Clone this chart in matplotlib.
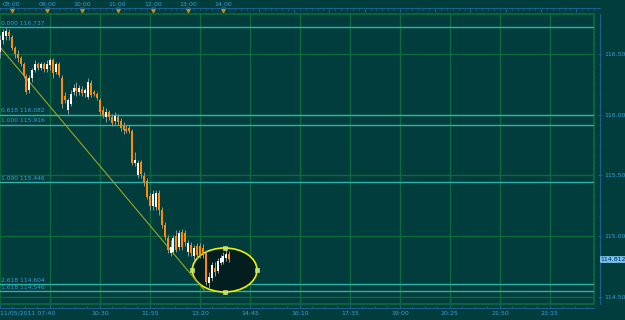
import matplotlib
matplotlib.use("Agg")
import matplotlib.pyplot as plt
import matplotlib.ticker as mticker
from matplotlib.patches import Ellipse, Rectangle
from matplotlib.transforms import blended_transform_factory

# 5 minute candles, x in minutes after 11/05/2011 07:40
opens = [116.516, 116.615, 116.648, 116.681, 116.639, 116.549, 116.500, 116.467, 116.417, 116.319,
         116.203, 116.302, 116.368, 116.417, 116.384, 116.417, 116.376, 116.409, 116.450, 116.351,
         116.417, 116.302, 116.154, 116.039, 116.088, 116.187, 116.220, 116.187, 116.212, 116.179,
         116.146, 116.261, 116.187, 116.170, 116.121, 116.039, 115.981, 116.022, 115.981, 115.948,
         115.981, 115.948, 115.907, 115.882, 115.891, 115.866, 115.603, 115.504, 115.611, 115.496,
         115.454, 115.331, 115.249, 115.240, 115.356, 115.216, 115.092, 114.985, 114.862, 114.870,
         115.002, 114.911, 115.035, 115.026, 114.870, 114.928, 114.837, 114.919, 114.919, 114.903,
         114.862, 114.615, 114.656, 114.738, 114.714, 114.780, 114.788, 114.821, 114.854]
highs = [116.656, 116.705, 116.714, 116.705, 116.656, 116.565, 116.532, 116.483, 116.434, 116.335,
         116.327, 116.384, 116.450, 116.434, 116.434, 116.434, 116.450, 116.467, 116.467, 116.434,
         116.434, 116.327, 116.187, 116.137, 116.203, 116.253, 116.269, 116.244, 116.236, 116.220,
         116.302, 116.286, 116.203, 116.187, 116.137, 116.072, 116.055, 116.039, 116.006, 116.022,
         116.006, 115.973, 115.940, 115.915, 115.915, 115.882, 115.693, 115.627, 115.627, 115.528,
         115.479, 115.356, 115.380, 115.380, 115.380, 115.240, 115.117, 115.010, 114.969, 115.010,
         115.051, 115.051, 115.059, 115.051, 114.969, 114.952, 114.928, 114.944, 114.944, 114.936,
         114.886, 114.705, 114.788, 114.788, 114.821, 114.845, 114.870, 114.886, 114.878]
lows = [116.467, 116.582, 116.615, 116.615, 116.532, 116.467, 116.434, 116.401, 116.302, 116.170,
        116.179, 116.269, 116.351, 116.368, 116.368, 116.351, 116.351, 116.368, 116.302, 116.335,
        116.310, 116.055, 116.096, 116.006, 116.072, 116.162, 116.154, 116.162, 116.154, 116.146,
        116.129, 116.146, 116.154, 116.121, 116.006, 115.973, 115.940, 115.956, 115.907, 115.923,
        115.915, 115.866, 115.841, 115.849, 115.849, 115.586, 115.578, 115.479, 115.479, 115.413,
        115.306, 115.216, 115.216, 115.216, 115.175, 115.068, 114.969, 114.862, 114.837, 114.854,
        114.870, 114.886, 114.886, 114.919, 114.837, 114.837, 114.804, 114.821, 114.821, 114.821,
        114.598, 114.574, 114.631, 114.673, 114.697, 114.763, 114.771, 114.796, 114.788]
closes = [116.615, 116.681, 116.689, 116.648, 116.549, 116.500, 116.467, 116.417, 116.319, 116.187,
          116.302, 116.368, 116.417, 116.384, 116.417, 116.376, 116.417, 116.450, 116.343, 116.417,
          116.327, 116.088, 116.121, 116.121, 116.170, 116.220, 116.195, 116.220, 116.179, 116.203,
          116.269, 116.162, 116.170, 116.137, 116.022, 115.998, 116.022, 115.981, 115.932, 115.989,
          115.940, 115.891, 115.874, 115.866, 115.866, 115.603, 115.627, 115.603, 115.512, 115.446,
          115.323, 115.249, 115.347, 115.356, 115.216, 115.092, 114.993, 114.886, 114.911, 114.985,
          114.886, 115.026, 114.911, 114.952, 114.944, 114.862, 114.903, 114.845, 114.837, 114.854,
          114.623, 114.664, 114.763, 114.705, 114.796, 114.821, 114.837, 114.854, 114.812]
times = [5 * i for i in range(len(closes))]

# fibonacci levels (position, label)
fib_levels = [116.722, 116.0, 115.916, 115.446, 114.604, 114.546]
fib_labels = ["0.000 116.737", "0.618 116.082", "1.000 115.916",
              "1.000 115.446", "2.618 114.604", "1.618 114.546"]

trend_x = [0, 347]
trend_y = [116.557, 114.558]

# ellipse: center (min, price), width (min), height (price)
ell_center = (382, 114.722)
ell_w = 110
ell_h = 0.362

last_price = "114.812"

bottom_ticks = [0, 85, 170, 255, 340, 425, 510, 595, 680, 765, 850, 935]
bottom_labels = ["11/05/2011 07:40", "", "10:30", "11:55", "13:20", "14:45",
                 "16:10", "17:35", "19:00", "20:25", "21:50", "23:15"]
top_hours = ["08:00", "09:00", "10:00", "11:00", "12:00", "13:00", "14:00"]
price_ticks = [114.5, 115.0, 115.5, 116.0, 116.5]

bg = "#023d3d"
grid_c = "#0c6a3c"
fib_c = "#2bb3ab"
axis_c = "#1d5f8c"
txt_c = "#3a9fd6"
up_c = "white"
dn_c = "#ff8c00"

fig = plt.figure(figsize=(6.25, 3.2), dpi=100, facecolor=bg)
ax = fig.add_axes([0, 16 / 320, 594 / 625, 290 / 320])
ax.set_facecolor(bg)
ax.set_xlim(0, 1010)
ax.set_ylim(114.442, 116.829)

for x in bottom_ticks[1:]:
    ax.axvline(x, color=grid_c, lw=1, zorder=1)
for y in price_ticks:
    ax.axhline(y, color=grid_c, lw=1, zorder=1)
ax.add_patch(Rectangle((0, 0), 1, 1, transform=ax.transAxes, fill=False,
                       edgecolor=grid_c, lw=1.2, zorder=1, clip_on=False))

for lvl, lab in zip(fib_levels, fib_labels):
    ax.axhline(lvl, xmax=0.998, color=fib_c, lw=1, zorder=2)
    ax.text(1, lvl + 0.012, lab, color=txt_c, fontsize=4.3, va="bottom", ha="left", zorder=6)

ax.plot(trend_x, trend_y, color="#98a61e", lw=0.8, zorder=3)

ax.add_patch(Ellipse(ell_center, ell_w, ell_h, facecolor="#021e1f",
                     edgecolor="#f0f000", lw=1.2, zorder=2))
hx = [ell_center[0], ell_center[0], ell_center[0] - ell_w / 2, ell_center[0] + ell_w / 2]
hy = [ell_center[1] + ell_h / 2, ell_center[1] - ell_h / 2, ell_center[1], ell_center[1]]
ax.scatter(hx, hy, marker="s", s=5, color="#b9e27a", edgecolors="#e8f060",
           linewidths=0.4, zorder=7)

colors = [up_c if c >= o else dn_c for o, c in zip(opens, closes)]
ax.vlines(times, lows, highs, color="#8c9c9c", lw=0.7, zorder=4)
ax.bar(times, [c - o for o, c in zip(opens, closes)], bottom=opens, width=3.4,
       color=colors, linewidth=0, zorder=5)

# right price axis
for s in ["left", "top"]:
    ax.spines[s].set_visible(False)
ax.spines["right"].set_position(("outward", 4.3))
ax.spines["right"].set_color(axis_c)
ax.spines["bottom"].set_position(("outward", 2.9))
ax.spines["bottom"].set_color(axis_c)
ax.yaxis.tick_right()
ax.set_yticks(price_ticks)
ax.set_yticklabels(["%.2f" % p for p in price_ticks])
ax.yaxis.set_minor_locator(mticker.MultipleLocator(0.5 / 6))
ax.tick_params(axis="y", which="both", direction="inout", colors=axis_c,
               labelcolor=txt_c, labelsize=4.5, pad=1.5, length=3, width=0.7)
ax.tick_params(axis="y", which="minor", length=2)

ax.set_xticks(bottom_ticks)
ax.set_xticklabels(bottom_labels)
ax.xaxis.set_minor_locator(mticker.MultipleLocator(85 / 4))
ax.tick_params(axis="x", which="both", direction="in", colors=axis_c,
               labelcolor=txt_c, labelsize=4.5, pad=2, length=3, width=0.7)
ax.tick_params(axis="x", which="minor", length=1.5)
ax.get_xticklabels()[0].set_ha("left")

tr = blended_transform_factory(ax.transAxes, ax.transData)
ax.text(1.0115, float(last_price), last_price, transform=tr, fontsize=4.5,
        color="#0b2a60", va="center", ha="left",
        bbox=dict(boxstyle="square,pad=0.15", facecolor="#6cc3f5", edgecolor="#a0dcff", lw=0.4))

# top time ruler
axt = fig.add_axes(ax.get_position())
axt.patch.set_visible(False)
axt.set_xlim(ax.get_xlim())
axt.set_yticks([])
for s in ["left", "right", "bottom"]:
    axt.spines[s].set_visible(False)
axt.spines["top"].set_position(("outward", 4.3))
axt.spines["top"].set_color(axis_c)
axt.spines["top"].set_bounds(0, 1020)
hour_ticks = list(range(20, 1010, 60))
axt.xaxis.tick_top()
axt.set_xticks(hour_ticks)
axt.set_xticklabels(top_hours + [""] * (len(hour_ticks) - len(top_hours)))
axt.xaxis.set_minor_locator(mticker.MultipleLocator(10))
axt.tick_params(axis="x", which="both", direction="in", colors=axis_c,
                labelcolor=txt_c, labelsize=4.5, pad=0.8, length=3, width=0.7)
axt.tick_params(axis="x", which="minor", length=1.5)
trt = blended_transform_factory(axt.transData, axt.transAxes)
axt.plot(hour_ticks[:len(top_hours)], [1.015] * len(top_hours), "v", color="#c4901a",
         markersize=3, transform=trt, clip_on=False)

fig.savefig("out.png", dpi=100, facecolor=bg)
